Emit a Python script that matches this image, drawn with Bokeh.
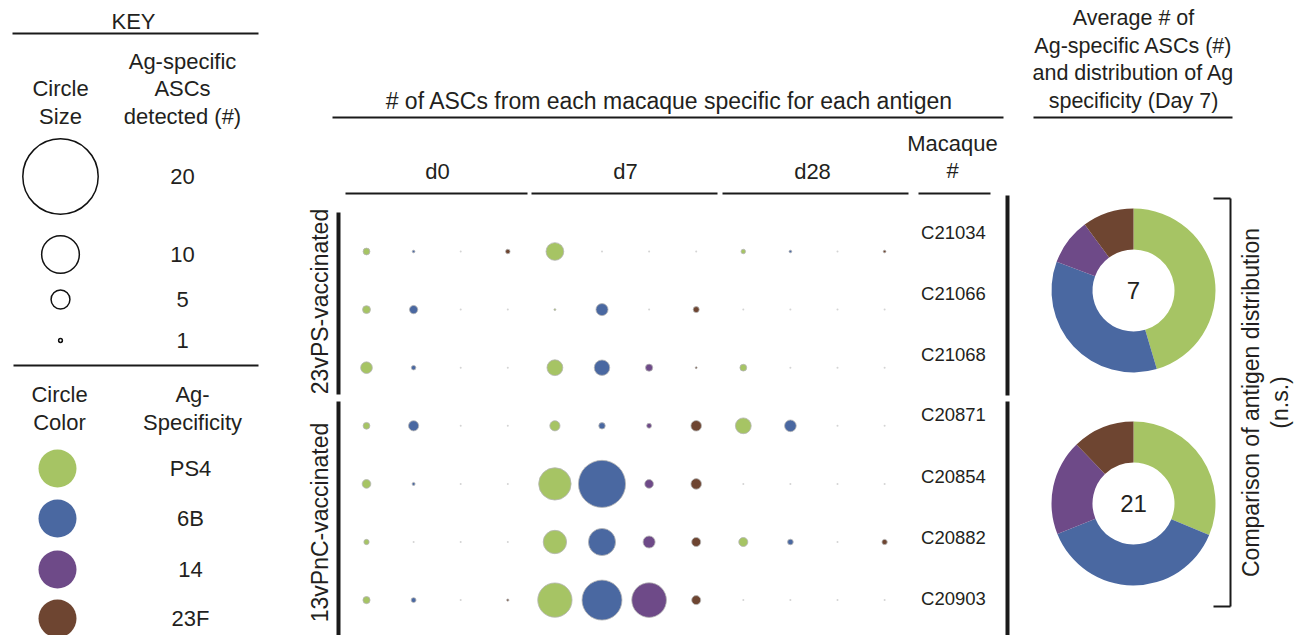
import math
from bokeh.plotting import figure
from bokeh.models import Range1d
from bokeh.core.properties import value
from bokeh.embed import file_html
from bokeh.resources import INLINE

# ---------------- data ----------------
macaques = ["C21034", "C21066", "C21068", "C20871", "C20854", "C20882", "C20903"]
groups = ["23vPS-vaccinated", "13vPnC-vaccinated"]
group_rows = [[0, 1, 2], [3, 4, 5, 6]]
days = ["d0", "d7", "d28"]
antigens = ["PS4", "6B", "14", "23F"]
colors = ["#A6C464", "#4A68A1", "#6E4A88", "#6E4531"]

d0_PS4 = [1.8, 2.1, 3.1, 1.8, 2.3, 1.4, 1.9]
d0_6B = [0.7, 2.2, 1.2, 2.7, 0.8, 0.0, 1.3]
d0_14 = [0.0, 0.0, 0.0, 0.0, 0.0, 0.0, 0.0]
d0_23F = [1.2, 0.0, 0.0, 0.0, 0.0, 0.0, 0.6]
d7_PS4 = [4.7, 0.5, 4.2, 2.7, 8.6, 6.2, 9.1]
d7_6B = [0.0, 3.2, 4.1, 1.7, 12.5, 7.2, 10.6]
d7_14 = [0.0, 0.0, 1.9, 1.3, 2.3, 3.2, 9.2]
d7_23F = [0.0, 1.6, 0.5, 2.8, 2.8, 2.4, 2.4]
d28_PS4 = [1.2, 0.0, 1.8, 4.2, 0.0, 2.4, 0.0]
d28_6B = [0.7, 0.0, 0.0, 3.1, 0.0, 1.5, 0.0]
d28_14 = [0.0, 0.0, 0.0, 0.0, 0.0, 0.0, 0.0]
d28_23F = [0.7, 0.0, 0.0, 0.0, 0.0, 1.4, 0.0]

data = {
    "d0": [d0_PS4, d0_6B, d0_14, d0_23F],
    "d7": [d7_PS4, d7_6B, d7_14, d7_23F],
    "d28": [d28_PS4, d28_6B, d28_14, d28_23F],
}

key_sizes = [20, 10, 5, 1]

# ---------------- layout ----------------
FONT = value("Liberation Sans")
TXT = "#231f20"
W, H = 1304, 635
p = figure(width=W, height=H, output_backend="svg", toolbar_location=None,
           x_range=Range1d(0, W), y_range=Range1d(-H, 0),
           min_border=0, tools="")
p.xaxis.visible = False
p.yaxis.visible = False
p.grid.visible = False
p.outline_line_color = None
p.background_fill_color = "white"
p.border_fill_color = "white"

PX_PER_COUNT = 3.77  # circle diameter per ASC


def txt(xs, ys, texts, size="22px", angle=0.0, align="center"):
    p.text(x=xs, y=[-v for v in ys], text=texts, text_font=FONT,
           text_font_size=size, text_align=align, text_baseline="middle",
           text_color=TXT, angle=angle)


def hline(x0, x1, y, w=2):
    p.segment(x0=[x0], y0=[-y], x1=[x1], y1=[-y], line_color="#1a1a1a", line_width=w)


def vline(x, y0, y1, w=4):
    p.segment(x0=[x], y0=[-y0], x1=[x], y1=[-y1], line_color="#1a1a1a", line_width=w)


# ---- KEY ----
txt([133], [21], ["KEY"], size="22px")
hline(12, 258, 33)
txt([60, 60], [88, 116], ["Circle", "Size"])
txt([182, 182, 182], [61, 88, 116], ["Ag-specific", "ASCs", "detected (#)"])
key_y = [176, 254, 299, 340]
p.scatter(x=[60] * 4, y=[-v for v in key_y], size=[k * PX_PER_COUNT for k in key_sizes],
          fill_color=None, line_color="#111111", line_width=1.5)
txt([182] * 4, key_y, [str(k) for k in key_sizes])
hline(13, 258, 365)
txt([59, 59], [394, 422], ["Circle", "Color"])
txt([192, 192], [394, 422], ["Ag-", "Specificity"])
col_key_y = [468, 518, 569, 618]
p.scatter(x=[57] * 4, y=[-v for v in col_key_y], size=38, fill_color=colors, line_color=None)
txt([190] * 4, col_key_y, antigens)

# ---- Main headers ----
txt([669], [100], ["# of ASCs from each macaque specific for each antigen"], size="23px")
hline(332, 1003, 117)
day_cx = [437, 625, 812]
day_lines = [(345, 527), (531, 717), (722, 908)]
for dname, cx, (a, b) in zip(days, day_cx, day_lines):
    txt([cx], [171], [dname])
    hline(a, b, 193)
txt([952, 952], [143, 170], ["Macaque", "#"])
hline(918, 990, 193)

# ---- group bars and labels ----
vline(338, 212, 394)
vline(338, 401, 635)
txt([319], [301], [groups[0]], angle=math.pi / 2, size="23px")
txt([319], [522], [groups[1]], angle=math.pi / 2, size="23px")
vline(1007, 195, 395)
vline(1007, 401, 635)

# ---- bubble grid ----
col_x0, col_step = 366.0, 47.1
row_y0, row_step = 251.0, 58.1
bx, by, bs, bc, zx, zy = [], [], [], [], [], []
for r in range(len(macaques)):
    for d, day in enumerate(days):
        for a in range(len(antigens)):
            v = data[day][a][r]
            x = col_x0 + col_step * (d * 4 + a)
            y = -(row_y0 + row_step * r)
            if v > 0:
                bx.append(x); by.append(y); bs.append(v * PX_PER_COUNT); bc.append(colors[a])
            else:
                zx.append(x); zy.append(y)
p.scatter(x=zx, y=zy, size=2, fill_color="#d4d4d4", line_color=None)
p.scatter(x=bx, y=by, size=bs, fill_color=bc, line_color="#b5b5b5", line_width=0.8)

id_y = [232, 293, 354, 414, 476, 537, 598]
txt([953] * 7, id_y, macaques, size="18.5px")

# ---- right header ----
txt([1133] * 4, [17, 45, 72, 100],
    ["Average # of", "Ag-specific ASCs (#)", "and distribution of Ag", "specificity (Day 7)"],
    size="21.5px")
hline(1033, 1232, 117)

# ---- donuts (Day 7 averages per group) ----
donut_cy = [290, 503]
for g, rows in enumerate(group_rows):
    avgs = [sum(data["d7"][a][r] for r in rows) / len(rows) for a in range(4)]
    total = sum(avgs)
    cum = 0.0
    starts, ends = [], []
    for v in avgs:
        c0 = cum / total
        cum += v
        c1 = cum / total
        starts.append(math.pi / 2 - 2 * math.pi * c1)
        ends.append(math.pi / 2 - 2 * math.pi * c0)
    p.annular_wedge(x=[1133] * 4, y=[-donut_cy[g]] * 4, inner_radius=41, outer_radius=82,
                    start_angle=starts, end_angle=ends, fill_color=colors, line_color=None)
    txt([1133], [donut_cy[g]], [str(int(round(total)))], size="24px")

# ---- bracket ----
vline(1230, 198, 606, w=2)
hline(1213, 1230, 198)
hline(1213, 1230, 606)
txt([1250], [402], ["Comparison of antigen distribution"], angle=math.pi / 2, size="23px")
txt([1279], [402], ["(n.s.)"], angle=math.pi / 2, size="23px")

open("out.html", "w").write(file_html(p, INLINE))
